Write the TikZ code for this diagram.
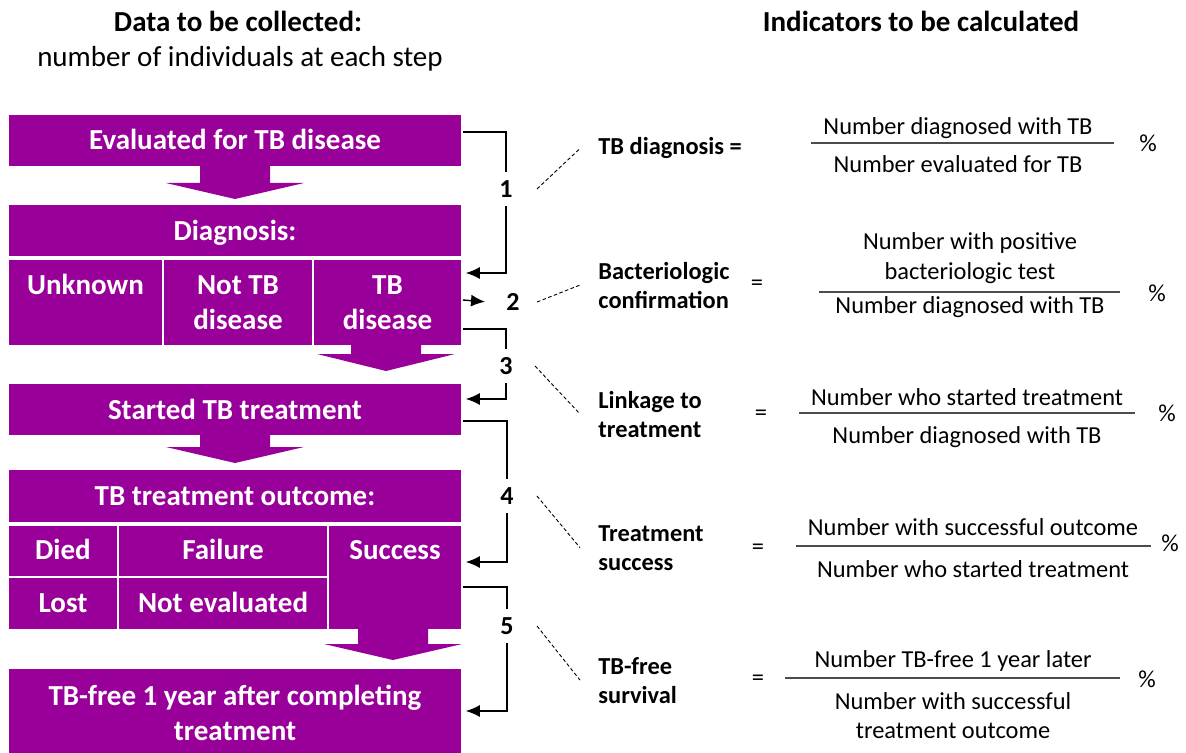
\documentclass[tikz,border=0pt]{standalone}
\usepackage{fontspec}
\setmainfont{Carlito}
\usetikzlibrary{arrows.meta,fit}
\definecolor{tbpurple}{RGB}{153,0,153}

\begin{document}
\begin{tikzpicture}[x=0.5pt,y=-0.5pt,
  cell/.style={fill=tbpurple,draw=white,line width=0.8pt,inner sep=0pt},
  celltxt/.style={text=white,font=\fontsize{14.5}{17.5}\selectfont\bfseries,anchor=base,align=center,inner sep=0pt},
  head/.style={font=\fontsize{14.5}{17.5}\selectfont,anchor=base,inner sep=0pt},
  stepno/.style={font=\fontsize{13}{15}\selectfont\bfseries,inner xsep=3pt,inner ysep=4pt},
  lbl/.style={font=\fontsize{12.2}{14.5}\selectfont\bfseries,anchor=base west,align=left,inner sep=0pt},
  ratio/.style={font=\fontsize{12.2}{14.5}\selectfont,anchor=base,align=center,inner sep=0pt},
  sym/.style={font=\fontsize{12.2}{14.5}\selectfont,inner sep=0pt},
  elbow/.style={line width=0.7pt},
  link/.style={line width=0.7pt,-{Latex[length=7pt,width=6pt]},shorten >=1.5pt},
  hint/.style={line width=0.45pt,dash pattern=on 1.8pt off 1.2pt},
  bar/.style={line width=0.7pt,black!70}]
\useasboundingbox (0,0) rectangle (1186,753);

\node[head,font=\fontsize{14.5}{17.5}\selectfont\bfseries] (hd1) at (238,32) {Data to be collected:};
\node[head] (hd2) at (240,67) {number of individuals at each step};
\node[head,font=\fontsize{14.5}{17.5}\selectfont\bfseries] (hd3) at (921,32) {Indicators to be calculated};

\node[cell,fit={(8,114)(462,167)}] (b1) {};
\node[cell,fit={(8,204)(462,257)}] (dg0) {};
\node[cell,fit={(8,259)(163,346)}] (dg1) {};
\node[cell,fit={(163,259)(313,346)}] (dg2) {};
\node[cell,fit={(313,259)(462,346)}] (dg3) {};
\node[cell,fit={(8,383)(462,436)}] (b3) {};
\node[cell,fit={(8,469)(462,523)}] (oc0) {};
\node[cell,fit={(8,525)(118,577)}] (oc1) {};
\node[cell,fit={(118,525)(328,577)}] (oc2) {};
\node[cell,fit={(328,525)(462,630)}] (oc3) {};
\node[cell,fit={(8,577)(118,630)}] (oc4) {};
\node[cell,fit={(118,577)(328,630)}] (oc5) {};
\node[cell,fit={(8,668)(462,756)}] (b5) {};

\fill[tbpurple] (200,166) -- (270,166) -- (270,183) -- (304,183) -- (235,199) -- (166,183) -- (200,183) -- cycle;
\fill[tbpurple] (351,345) -- (421,345) -- (421,354) -- (455,354) -- (386,371) -- (317,354) -- (351,354) -- cycle;
\fill[tbpurple] (200,435) -- (270,435) -- (270,447) -- (304,447) -- (235,463) -- (166,447) -- (200,447) -- cycle;
\fill[tbpurple] (358,629) -- (428,629) -- (428,644) -- (462,644) -- (393,660) -- (324,644) -- (358,644) -- cycle;

\node[celltxt] (tb1) at ([yshift=-18pt]b1.north) {Evaluated for TB disease};
\node[celltxt] (tdg0) at ([yshift=-18.5pt]dg0.north) {Diagnosis:};
\node[celltxt] (tdg1) at ([yshift=-18pt]dg1.north) {Unknown};
\node[celltxt] (tdg2) at ([yshift=-35.5pt]dg2.north) {Not TB\\disease};
\node[celltxt] (tdg3) at ([yshift=-35.5pt]dg3.north) {TB\\disease};
\node[celltxt] (tb3) at ([yshift=-18.5pt]b3.north) {Started TB treatment};
\node[celltxt] (toc0) at ([yshift=-18.5pt]oc0.north) {TB treatment outcome:};
\node[celltxt] (toc1) at ([yshift=-17.5pt]oc1.north) {Died};
\node[celltxt] (toc2) at ([yshift=-17.5pt]oc2.north) {Failure};
\node[celltxt] (toc3) at ([yshift=-17.5pt]oc3.north) {Success};
\node[celltxt] (toc4) at ([yshift=-18pt]oc4.north) {Lost};
\node[celltxt] (toc5) at ([yshift=-18pt]oc5.north) {Not evaluated};
\node[celltxt] (tb5) at ([yshift=-36.5pt]b5.north) {TB-free 1 year after completing\\treatment};

\node[stepno] (n1) at (506,189) {1};
\node[stepno] (n2) at (513,302) {2};
\node[stepno] (n3) at (506,366) {3};
\node[stepno] (n4) at (507,496) {4};
\node[stepno] (n5) at (507,626) {5};

\draw[elbow] (b1.east |- 0,132) -| (n1.north);
\draw[link] (n1.south) |- (dg3.east |- 0,273);
\draw[link] (dg3.east |- 0,300) -- ([xshift=-12.5pt]n2.center);
\draw[elbow] (dg3.east |- 0,329) -| (n3.north);
\draw[link] (n3.south) |- (b3.east |- 0,399);
\draw[elbow] (b3.east |- 0,421) -| (n4.north);
\draw[link] (n4.south) |- (oc3.east |- 0,562);
\draw[elbow] (oc3.east |- 0,587) -| (n5.north);
\draw[link] (n5.south) |- (b5.east |- 0,711);

\node[lbl] (l1) at (598,155) {TB diagnosis =};
\node[lbl] (l2) at (598,308) {Bacteriologic\\confirmation};
\node[lbl] (l3) at (598,437) {Linkage to\\treatment};
\node[lbl] (l4) at (598,570) {Treatment\\success};
\node[lbl] (l5) at (598,703) {TB-free\\survival};

\draw[hint] ([xshift=15.5pt]n1.center) -- ([xshift=-9pt]l1.west);
\draw[hint] ([xshift=12pt]n2.center) -- ([xshift=-9pt]l2.west);
\draw[hint] ([xshift=14.5pt]n3.center) -- ([xshift=-9pt]l3.west);
\draw[hint] ([xshift=15pt]n4.center) -- ([xshift=-9pt]l4.west);
\draw[hint] ([xshift=15pt]n5.center) -- ([xshift=-9pt]l5.west);

\node[sym] (e2) at (757,285) {=};
\node[sym] (e3) at (761,415) {=};
\node[sym] (e4) at (758,549) {=};
\node[sym] (e5) at (758,680) {=};

\node[ratio] (u1) at (958,135) {Number diagnosed with TB};
\node[ratio] (d1) at (958,173) {Number evaluated for TB};
\node[ratio] (u2) at (970,279) {Number with positive\\bacteriologic test};
\node[ratio] (d2) at (970,314) {Number diagnosed with TB};
\node[ratio] (u3) at (967,405) {Number who started treatment};
\node[ratio] (d3) at (967,443) {Number diagnosed with TB};
\node[ratio] (u4) at (973,535) {Number with successful outcome};
\node[ratio] (d4) at (973,577) {Number who started treatment};
\node[ratio] (u5) at (953,667) {Number TB-free 1 year later};
\node[ratio] (d5) at (953,738) {Number with successful\\treatment outcome};

\draw[bar] (811,143) -- (1114,143);
\draw[bar] (819,292) -- (1120,292);
\draw[bar] (799,413) -- (1135,413);
\draw[bar] (796,546) -- (1151,546);
\draw[bar] (785,678) -- (1120,678);

\node[sym] (p1) at (1148,143) {\%};
\node[sym] (p2) at (1157,293) {\%};
\node[sym] (p3) at (1167,413) {\%};
\node[sym] (p4) at (1170,543) {\%};
\node[sym] (p5) at (1147,679) {\%};
\end{tikzpicture}
\end{document}
